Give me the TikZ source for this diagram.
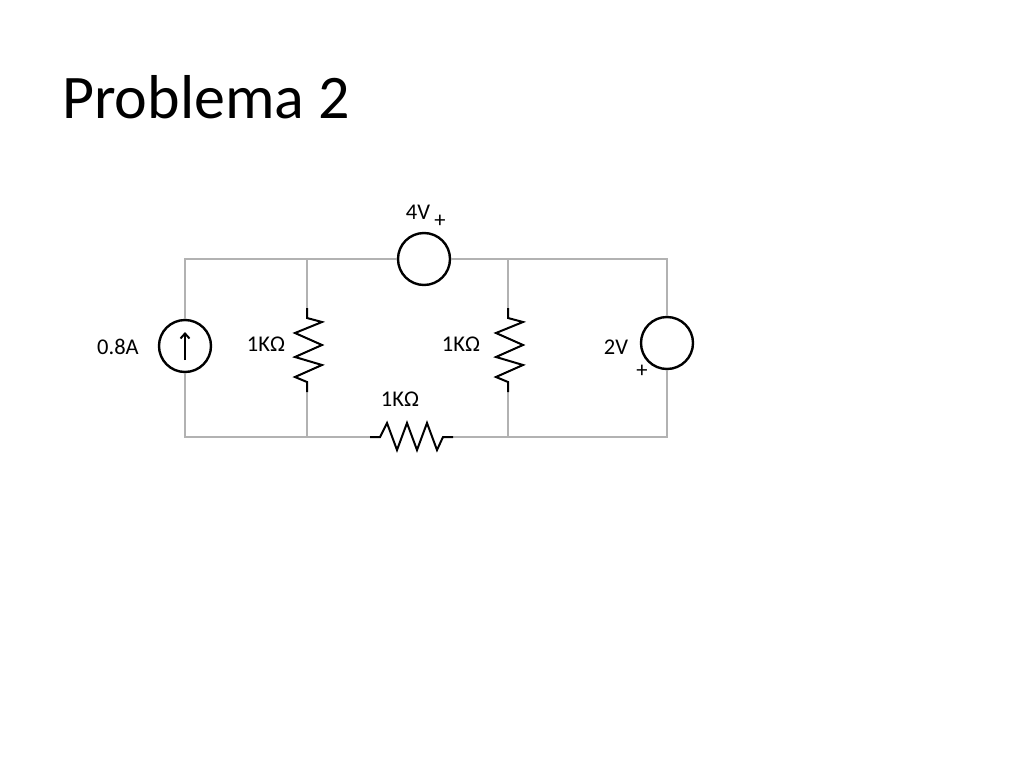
\documentclass[tikz,border=0pt]{standalone}
\usepackage{fontspec}
\usetikzlibrary{arrows.meta}
\setmainfont{Carlito}
\begin{document}
\begin{tikzpicture}[x=1pt,y=-1pt,
  wire/.style={draw=gray!60,line width=1.2pt},
  sym/.style={draw=black,line width=2.4pt},
  lbl/.style={font=\fontsize{22.5}{26}\selectfont,inner sep=0pt}]
\useasboundingbox (0,0) rectangle (1024,768);
\node[anchor=base west,font=\fontsize{62}{70}\selectfont,inner sep=0pt] (title) at (62,118) {Problema 2};
% corners
\coordinate (tl) at (185,259); \coordinate (t2) at (307,259); \coordinate (t3) at (508,259); \coordinate (tr) at (667,259);
\coordinate (bl) at (185,437); \coordinate (b2) at (307,437); \coordinate (b3) at (508,437); \coordinate (br) at (667,437);
\node[circle,sym,minimum size=52pt,inner sep=0pt] (I) at (185,346) {};
\node[circle,sym,minimum size=52pt,inner sep=0pt] (V4) at (424,259) {};
\node[circle,sym,minimum size=52pt,inner sep=0pt] (V2) at (667,343) {};
\draw[wire] (I.north) -- (tl) -- (t2) -- (V4.west);
\draw[wire] (V4.east) -- (t3) -- (tr) -- (V2.north);
\draw[wire] (V2.south) -- (br) -- (b3) -- (453,437);
\draw[wire] (370,437) -- (b2) -- (bl) -- (I.south);
\draw[wire] (t2) -- (307,308); \draw[wire] (307,392) -- (b2);
\draw[wire] (t3) -- (508,308); \draw[wire] (508,392) -- (b3);
\draw[black,line width=2pt,-{Straight Barb[length=5pt,width=9pt]}] (185,360) -- (185,332);
\foreach \x in {307,508}{
\draw[sym,line width=2pt] (\x,308) -- (\x,318) -- (\x+15,322) -- (\x-12,333) -- (\x+15,345) -- (\x-12,357) -- (\x+15,365) -- (\x-12,377) -- (\x,382) -- (\x,392);}
\draw[sym,line width=2pt] (370,437) -- (380,437) -- (387,423) -- (397,450) -- (407,423) -- (417,450) -- (427,423) -- (437,450) -- (443,437) -- (453,437);
\node[lbl] (l4) at (418,212) {4V};
\node[lbl] (p4) at (440,221) {+};
\node[lbl] (l08) at (118,347) {0.8A};
\node[lbl] (r1) at (266,344) {1KΩ};
\node[lbl] (r2) at (461,344) {1KΩ};
\node[lbl] (r3) at (400,399) {1KΩ};
\node[lbl] (l2) at (616,347) {2V};
\node[lbl] (p2) at (642,371) {+};
\end{tikzpicture}
\end{document}
